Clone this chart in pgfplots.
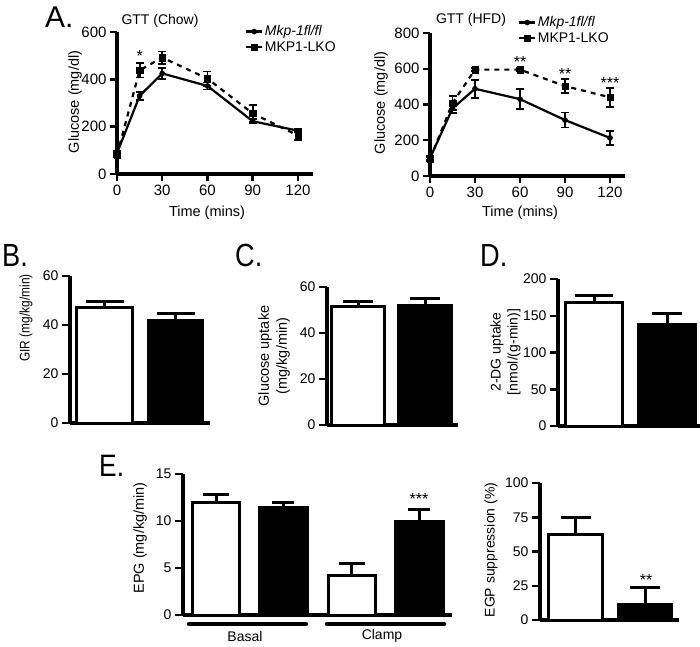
\documentclass[border=0pt]{standalone}
\usepackage{fontspec}
\setmainfont{Liberation Sans}
\newfontfamily\narrowfont{Liberation Sans}[FakeStretch=0.85]
\usepackage{pgfplots}
\pgfplotsset{compat=1.18}
\pgfplotsset{
  gp/.style={
    scale only axis, anchor=south west,
    axis x line*=bottom, axis y line*=left,
    axis line style={line width=3.5pt},
    tick align=outside, major tick length=8pt,
    major tick style={line width=2.5pt, black},
    clip=false,
    /pgf/number format/assume math mode=true,
    tick label style={font=\fontsize{14}{14}\selectfont},
  },
  gtt/.style={gp, xmin=0, xmax=130, ymin=0, xtick={0,30,60,90,120},
    tick label style={font=\fontsize{15}{15}\selectfont}, major tick length=7pt,
    legend cell align=left,
    legend image code/.code={\draw[mark repeat=2, mark phase=2, ##1] plot coordinates {(0pt,0pt) (8pt,0pt) (16pt,0pt)};},
    legend image post style={solid},
  },
  barplot/.style={gp, xtick=\empty},
  wb/.style 2 args={ybar, bar shift=0pt, bar width=#1, fill=white, draw=black, line width=3pt,
    error bars/y dir=plus, error bars/y explicit,
    error bars/error bar style={line width=3pt, black},
    error bars/error mark options={rotate=90, line width=3pt, mark size=#2pt, black}},
  bb/.style 2 args={ybar, bar shift=0pt, bar width=#1, fill=black, draw=black, line width=3pt,
    error bars/y dir=plus, error bars/y explicit,
    error bars/error bar style={line width=3pt, black},
    error bars/error mark options={rotate=90, line width=3pt, mark size=#2pt, black}},
  ctl/.style={black, solid, line width=2.2pt, mark=*, mark size=2.6pt,
    mark options={solid, line width=0.4pt},
    error bars/y dir=both, error bars/y explicit,
    error bars/error bar style={line width=1.8pt, solid},
    error bars/error mark options={rotate=90, line width=1.8pt, mark size=4pt, solid}},
  ko/.style={black, dash pattern=on 5pt off 5pt, line width=2.2pt, mark=square*, mark size=3.2pt,
    mark options={solid, line width=0.4pt},
    error bars/y dir=both, error bars/y explicit,
    error bars/error bar style={line width=1.8pt, solid},
    error bars/error mark options={rotate=90, line width=1.8pt, mark size=4pt, solid}},
}
\newcommand{\fs}[1]{\fontsize{#1}{#1}\selectfont}
\begin{document}
\begin{tikzpicture}[x=1pt,y=1pt]
\useasboundingbox (0,0) rectangle (700,646);

% ---------- A left: GTT (Chow)
\begin{axis}[gtt, at={(117pt,472pt)}, width=196pt, height=142pt, ymax=600, ytick={0,200,400,600},
  legend style={at={(0.653,1.056)}, anchor=north west, draw=none, fill=none, inner sep=0pt,
    font=\fs{14}, nodes={inner sep=1.5pt}, row sep=1pt}]
\addplot[ctl] coordinates {(0,88)+-(0,8) (15,330)+-(0,18) (30,425)+-(0,22) (60,372)+-(0,15) (90,223)+-(0,8) (120,183)+-(0,8)};
\addlegendentry{\textit{Mkp-1fl/fl}}
\addplot[ko] coordinates {(0,80)+-(0,8) (15,438)+-(0,30) (30,492)+-(0,26) (60,403)+-(0,30) (90,256)+-(0,35) (120,163)+-(0,18)};
\addlegendentry{MKP1-LKO}
\node[font=\fs{16}] at (axis cs:15,500) {*};
\end{axis}

% ---------- A right: GTT (HFD)
\begin{axis}[gtt, at={(430pt,470pt)}, width=195pt, height=143pt, ymax=800, ytick={0,200,400,600,800},
  legend style={at={(0.451,1.126)}, anchor=north west, draw=none, fill=none, inner sep=0pt,
    font=\fs{14}, nodes={inner sep=1.5pt}, row sep=1pt}]
\addplot[ctl] coordinates {(0,100)+-(0,10) (15,378)+-(0,25) (30,488)+-(0,50) (60,430)+-(0,56) (90,313)+-(0,42) (120,213)+-(0,39)};
\addlegendentry{\textit{Mkp-1fl/fl}}
\addplot[ko] coordinates {(0,95)+-(0,10) (15,408)+-(0,40) (30,595)+-(0,8) (60,595)+-(0,8) (90,503)+-(0,39) (120,440)+-(0,53)};
\addlegendentry{MKP1-LKO}
\node[font=\fs{16}] at (axis cs:60,640) {**};
\node[font=\fs{16}] at (axis cs:90,573) {**};
\node[font=\fs{16}] at (axis cs:120,522) {***};
\end{axis}

% ---------- B: GIR
\begin{axis}[barplot, at={(70pt,223pt)}, width=140pt, height=147pt, xmin=0, xmax=140, ymin=0, ymax=60, ytick={0,20,40,60}]
\addplot[wb={56}{19}] coordinates {(34.5,47.0)+-(0,2.5)};
\addplot[bb={54}{19}] coordinates {(105.5,42.0)+-(0,2.7)};
\end{axis}

% ---------- C: Glucose uptake
\begin{axis}[barplot, at={(327pt,221pt)}, width=131pt, height=138pt, xmin=0, xmax=131, ymin=0, ymax=60, ytick={0,20,40,60}]
\addplot[wb={53}{15}] coordinates {(31,51.6)+-(0,1.9)};
\addplot[bb={53}{15}] coordinates {(98,52.0)+-(0,2.8)};
\end{axis}

% ---------- D: 2-DG uptake
\begin{axis}[barplot, at={(558pt,220pt)}, width=142pt, height=147pt, xmin=0, xmax=142, ymin=0, ymax=200, ytick={0,50,100,150,200}]
\addplot[wb={57}{19}] coordinates {(36,168.6)+-(0,9.1)};
\addplot[bb={57}{15}] coordinates {(109,137.7)+-(0,15)};
\end{axis}

% ---------- E left: EPG
\begin{axis}[barplot, at={(183pt,31pt)}, width=269pt, height=141pt, xmin=0, xmax=269, ymin=0, ymax=15, ytick={0,5,10,15}]
\addplot[wb={47}{13}] coordinates {(33,11.95)+-(0,0.85) (168.5,4.15)+-(0,1.3)};
\addplot[bb={48}{11}] coordinates {(100,11.4)+-(0,0.6) (236,10.0)+-(0,1.2)};
\node[font=\fs{16}] at (axis cs:236,12.3) {***};
\end{axis}

% ---------- E right: EGP suppression
\begin{axis}[barplot, at={(540pt,26pt)}, width=139pt, height=137pt, xmin=0, xmax=139, ymin=0, ymax=100, ytick={0,25,50,75,100}]
\addplot[wb={54}{15}] coordinates {(35.5,62.7)+-(0,12.4)};
\addplot[bb={53}{15}] coordinates {(105,11.0)+-(0,12.7)};
\node[font=\fs{16}] at (axis cs:106,29.5) {**};
\end{axis}

% ---------- panel letters
\node[anchor=base west, inner sep=0pt, font=\fs{30}] at (45,618) {A.};
\node[anchor=base west, inner sep=0pt, font=\narrowfont\fs{32}] at (2,380) {B.};
\node[anchor=base west, inner sep=0pt, font=\narrowfont\fs{32}] at (235,380) {C.};
\node[anchor=base west, inner sep=0pt, font=\narrowfont\fs{32}] at (480,380) {D.};
\node[anchor=base west, inner sep=0pt, font=\narrowfont\fs{31}] at (99,170) {E.};

% ---------- titles and axis labels
\node[font=\fs{14}] at (160,625) {GTT (Chow)};
\node[font=\fs{14}] at (471,626) {GTT (HFD)};
\node[font=\fs{14.5}, rotate=90] at (75,544) {Glucose (mg/dl)};
\node[font=\fs{14.5}, rotate=90] at (381,543) {Glucose (mg/dl)};
\node[font=\fs{14.5}] at (207,433) {Time (mins)};
\node[font=\fs{14.5}] at (520,433) {Time (mins)};
\node[font=\narrowfont\fs{14}, rotate=90] at (26,328) {GIR (mg/kg/min)};
\node[font=\fontsize{14.5}{18}\selectfont, rotate=90, align=center] at (274,290) {Glucose uptake\\(mg/kg/min)};
\node[font=\fontsize{14}{17}\selectfont, rotate=90, align=center] at (505.5,294) {2-DG uptake\\{[nmol/(g-min)]}};
\node[font=\fs{14.5}, rotate=90] at (140,108) {EPG (mg/kg/min)};
\node[font=\fs{14}, rotate=90] at (491,96) {EGP suppression (\%)};
\node[font=\fs{14}] at (245,10) {Basal};
\node[font=\fs{14}] at (382,10) {Clamp};
\draw[line width=4.5pt, line cap=round] (189,22) -- (306,22);
\draw[line width=4.5pt, line cap=round] (327,22) -- (444,22);
\end{tikzpicture}
\end{document}
